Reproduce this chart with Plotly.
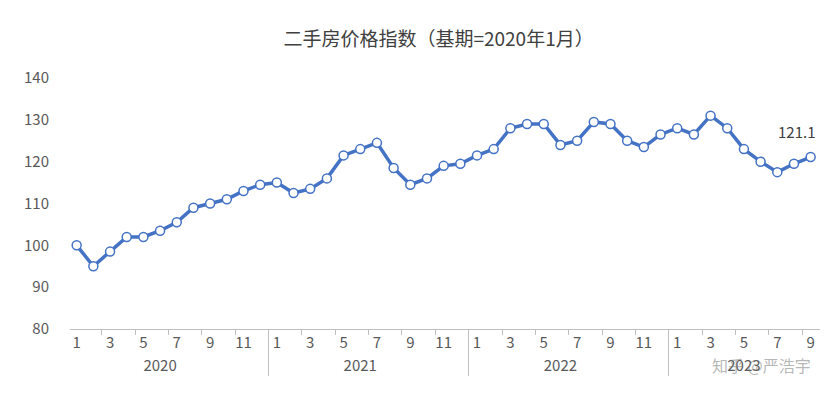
import plotly.graph_objects as go

years = ["2020"] * 12 + ["2021"] * 12 + ["2022"] * 12 + ["2023"] * 9
months = list(range(1, 13)) * 3 + list(range(1, 10))
values = [100, 95, 98.5, 102, 102, 103.5, 105.5, 109, 110, 111, 113, 114.5,
          115, 112.5, 113.5, 116, 121.5, 123, 124.5, 118.5, 114.5, 116, 119, 119.5,
          121.5, 123, 128, 129, 129, 124, 125, 129.5, 129, 125, 123.5, 126.5,
          128, 126.5, 131, 128, 123, 120, 117.5, 119.5, 121.1]

# odd months shown, even months get unique blank labels
month_labels = [str(m) if m % 2 else " " * (m // 2) for m in months]

fig = go.Figure(go.Scatter(
    x=[years, month_labels], y=values, mode="lines+markers",
    line=dict(color="#4472C4", width=3.5),
    marker=dict(size=9, color="white", line=dict(color="#4472C4", width=1.5)),
))
fig.add_annotation(x=("2023", "9"), y=values[-1], text="121.1", showarrow=False,
                   yshift=26, xshift=-14, font=dict(size=15, color="#404040"))
fig.add_annotation(x=0.985, y=-0.2, xref="paper", yref="paper", text="知乎 @严浩宇",
                   showarrow=False, xanchor="right",
                   font=dict(size=16, color="rgba(120,120,120,0.55)"))
fig.update_layout(
    width=828, height=413, paper_bgcolor="white", plot_bgcolor="white",
    title=dict(text="二手房价格指数（基期=2020年1月）", x=0.52, y=0.94,
               yref="container", font=dict(size=19, color="#404040")),
    font=dict(family="Noto Sans CJK SC", color="#595959", size=15),
    margin=dict(l=62, r=12, t=70, b=92, autoexpand=False),
    showlegend=False,
    yaxis=dict(range=[80, 140], dtick=10, showgrid=False, zeroline=False,
               ticklabelstandoff=20),
    xaxis=dict(showline=True, linecolor="#BFBFBF", showdividers=True,
               dividercolor="#BFBFBF", ticks="outside", tickcolor="#BFBFBF",
               tickangle=0, range=[-0.4, 44.8], automargin=False),
)
fig.write_html("out.html")
